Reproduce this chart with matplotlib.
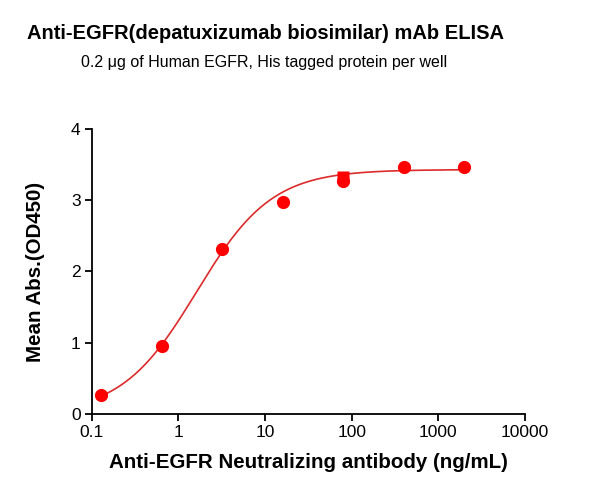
import numpy as np
import matplotlib
matplotlib.use('Agg')
import matplotlib.pyplot as plt

plt.rcParams['font.family'] = ['Liberation Sans', 'DejaVu Sans']

# measured points (ng/mL, OD450)
conc = [0.128, 0.64, 3.2, 16, 80, 400, 2000]
od450 = [0.26, 0.95, 2.32, 2.98, 3.27, 3.46, 3.47]
# second replicate, only visible at 80 ng/mL
conc_rep = [80]
od450_rep = [3.32]

# 4PL fit parameters: bottom, top, EC50, hill slope
fit_bottom = 0.0
fit_top = 3.43
fit_ec50 = 1.62
fit_hill = 1.0

LINE_RED = '#DC2B2B'
POINT_RED = '#FF0000'

fig = plt.figure(figsize=(6.08, 4.97), dpi=100)
ax = fig.add_axes([0.151, 0.167, 0.7125, 0.5735])

xs = np.logspace(np.log10(conc[0]), np.log10(conc[-1]), 300)
ys = fit_bottom + (fit_top - fit_bottom) / (1 + (fit_ec50 / xs) ** fit_hill)
ax.plot(xs, ys, color=LINE_RED, lw=1.2, zorder=2)

ax.plot(conc_rep, od450_rep, 's', color=POINT_RED, ms=8.5, mec='none', zorder=3)
ax.plot(conc, od450, 'o', color=POINT_RED, ms=9.5, mec='none', zorder=4)

ax.set_xscale('log')
ax.set_xlim(0.1, 10000)
ax.set_ylim(0, 4)
ax.set_xticks([0.1, 1, 10, 100, 1000, 10000])
ax.set_xticklabels(['0.1', '1', '10', '100', '1000', '10000'])
ax.set_yticks([0, 1, 2, 3, 4])
ax.minorticks_off()

# remove chartjunk
ax.spines['top'].set_visible(False)
ax.spines['right'].set_visible(False)
for s in ('left', 'bottom'):
    ax.spines[s].set_linewidth(1.3)
ax.tick_params(axis='both', which='major', direction='out', length=5, width=1.3,
               labelsize=12.5, pad=3)

ax.set_xlabel('Anti-EGFR Neutralizing antibody (ng/mL)', fontsize=14.8, fontweight='bold', labelpad=9)
ax.set_ylabel('Mean Abs.(OD450)', fontsize=14.8, fontweight='bold', labelpad=19)

fig.text(0.436, 0.933, 'Anti-EGFR(depatuxizumab biosimilar) mAb ELISA',
         ha='center', va='center', fontsize=14.5, fontweight='bold')
fig.text(0.434, 0.875, '0.2 \u03bcg of Human EGFR, His tagged protein per well',
         ha='center', va='center', fontsize=11.5)

fig.savefig('out.png', dpi=100)
